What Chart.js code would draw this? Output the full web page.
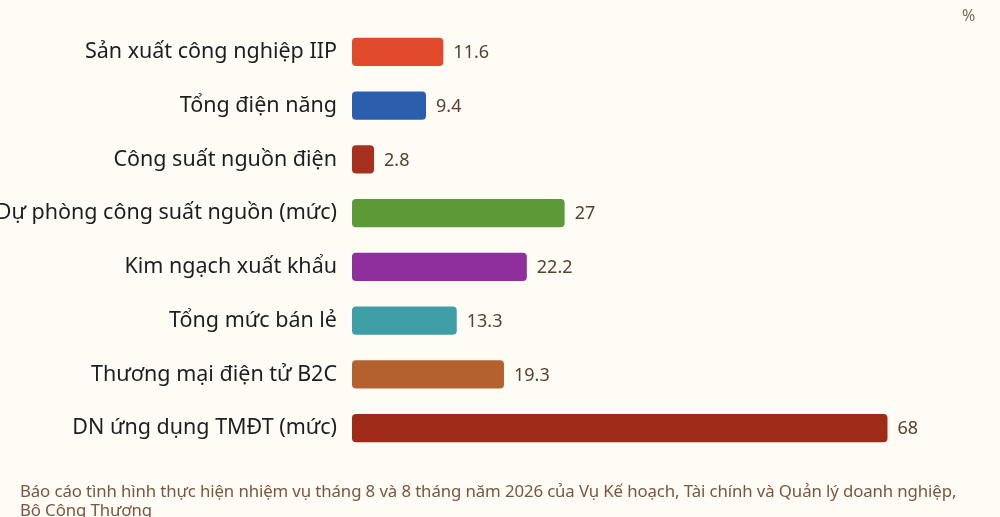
<!DOCTYPE html>
<html><head><meta charset="utf-8">
<script src="https://cdn.jsdelivr.net/npm/chart.js@4"></script>
<style>
html,body{margin:0;padding:0;background:#fffcf6;width:1000px;height:517px;overflow:hidden;}
#wrap{position:absolute;left:0;top:0;width:1000px;height:517px;}
#unit{position:absolute;left:962px;top:4px;font:16px "Noto Sans",sans-serif;color:#7a6a5e;}
#src{position:absolute;left:20px;top:481px;font:16.8px "Noto Sans",sans-serif;color:#7a5640;line-height:19px;letter-spacing:-0.1px;}
</style></head><body>
<div id="wrap"><canvas id="c" width="1000" height="517"></canvas></div>
<div id="unit">%</div>
<div id="src">Báo cáo tình hình thực hiện nhiệm vụ tháng 8 và 8 tháng năm 2026 của Vụ Kế hoạch, Tài chính và Quản lý doanh nghiệp,<br>Bộ Công Thương</div>
<script>
const categories = ["Sản xuất công nghiệp IIP","Tổng điện năng","Công suất nguồn điện","Dự phòng công suất nguồn (mức)","Kim ngạch xuất khẩu","Tổng mức bán lẻ","Thương mại điện tử B2C","DN ứng dụng TMĐT (mức)"];
const values = [11.6, 9.4, 2.8, 27, 22.2, 13.3, 19.3, 68];
const valueLabels = ["11.6","9.4","2.8","27","22.2","13.3","19.3","68"];
const colors = ["#e04a2b","#2b5fae","#a8301f","#5b9a36","#8f2f9b","#3e9fa6","#b5612f","#a02b18"];

const valueLabelPlugin = {
  id:'valueLabels',
  afterDatasetsDraw(chart){
    const ctx = chart.ctx;
    const meta = chart.getDatasetMeta(0);
    ctx.save();
    ctx.font = '18px "Noto Sans", sans-serif';
    ctx.fillStyle = '#5a4030';
    ctx.textBaseline = 'middle';
    ctx.textAlign = 'left';
    meta.data.forEach((bar,i)=>{
      ctx.fillText(valueLabels[i], bar.x + 10, bar.y + 1);
    });
    ctx.restore();
  }
};

new Chart(document.getElementById('c'), {
  type:'bar',
  data:{labels:categories, datasets:[{data:values, backgroundColor:colors, borderRadius:4, borderSkipped:false, barPercentage:0.87, categoryPercentage:0.6}]},
  options:{
    indexAxis:'y', responsive:false, animation:false,
    layout:{padding:{left:0,right:18,top:25,bottom:62}},
    plugins:{legend:{display:false}, tooltip:{enabled:false}},
    scales:{
      x:{display:false, min:0, max:80},
      y:{
        grid:{display:false}, border:{display:false},
        ticks:{color:'#1e1e1e', font:{family:'"Noto Sans", sans-serif', size:21.5}, padding:7},
        afterFit(s){ s.width = 352; }
      }
    }
  },
  plugins:[valueLabelPlugin]
});
</script>
</body></html>
